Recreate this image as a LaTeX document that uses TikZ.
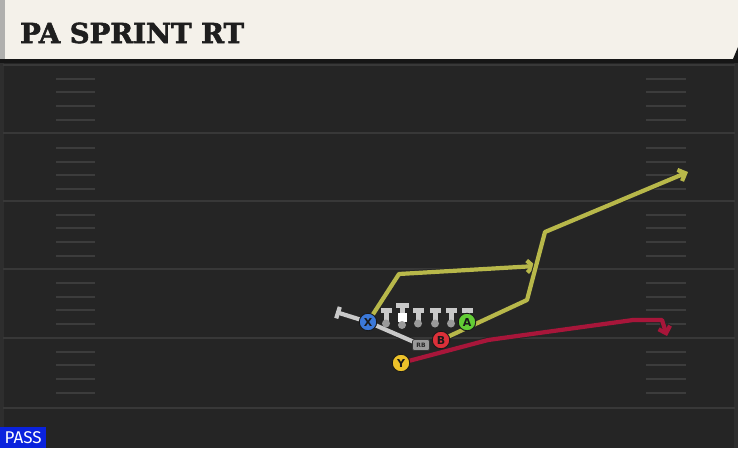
\documentclass[tikz,border=0pt]{standalone}
\usepackage{fontspec}
\usetikzlibrary{arrows.meta}
\newfontfamily\titlefont[BoldFeatures={FakeBold=2}]{DejaVu Serif}
\newfontfamily\lblfont{DejaVu Sans}
\newfontfamily\passfont{Fira Sans}
\definecolor{hdr}{HTML}{F4F1EA}
\definecolor{hdrstrip}{HTML}{B0B0AE}
\definecolor{fieldc}{HTML}{252525}
\definecolor{bandc}{HTML}{161616}
\definecolor{yardc}{HTML}{383838}
\definecolor{hashc}{HTML}{3C3C3C}
\definecolor{edgec}{HTML}{2E2E2E}
\definecolor{routey}{HTML}{B8B84A}
\definecolor{router}{HTML}{A8163A}
\definecolor{pblue}{HTML}{3B78D8}
\definecolor{pgreen}{HTML}{62CC35}
\definecolor{pred}{HTML}{DB3039}
\definecolor{pyellow}{HTML}{EDC22A}
\definecolor{lgray}{HTML}{C9C9C9}
\definecolor{mgray}{HTML}{9A9A9A}
\definecolor{passblue}{HTML}{0A22DD}
\definecolor{titlec}{HTML}{1E1E1E}
\pgfdeclarelayer{bg}
\pgfdeclarelayer{rt}
\pgfsetlayers{bg,rt,main}
\tikzset{
  player/.style={circle, draw=black!90, line width=0.9pt, minimum size=17.5pt, inner sep=0pt,
    font=\lblfont\bfseries\fontsize{11}{11}\selectfont, text=black!90},
  rbbox/.style={rectangle, rounded corners=2pt, draw=black!80, line width=0.7pt, fill=mgray,
    minimum width=17pt, minimum height=11pt, inner sep=0pt,
    font=\lblfont\bfseries\fontsize{6}{6}\selectfont, text=black!85},
  routeyel/.style={draw=routey, line width=4.2pt, line join=round,
    preaction={draw=black!85, line width=6.2pt}},
  routered/.style={draw=router, line width=4.2pt, line join=round,
    preaction={draw=black!85, line width=6.2pt}},
  blockline/.style={draw=lgray, line width=4.2pt,
    preaction={draw=black!85, line width=6.2pt}},
  yardline/.style={draw=yardc, line width=2pt},
  hashmark/.style={draw=hashc, line width=2pt}
}
\begin{document}
\begin{tikzpicture}[x=1pt,y=-1pt]
\useasboundingbox (0,0) rectangle (738,448);
\begin{pgfonlayer}{bg}
  % field
  \fill[fieldc] (0,59) rectangle (738,448);
  \fill[bandc] (0,59) rectangle (738,63);
  \fill[edgec] (0,63) rectangle (4,448);
  \fill[edgec] (734,63) rectangle (738,448);
  \foreach \yy in {65,133,201,269,338,408}
    \draw[yardline] (3,\yy) -- (735,\yy);
  \foreach \yy in {79,92,106,120,148,162,175,189,215,228,242,256,283,297,310,324,352,365,379,393}{
    \draw[hashmark] (56,\yy) -- (95,\yy);
    \draw[hashmark] (646,\yy) -- (686,\yy);
  }
  % header
  \fill[hdr] (0,0) rectangle (738,59);
  \fill[hdrstrip] (0,0) rectangle (5,59);
  \fill[bandc] (733,59) -- (738,47) -- (738,59) -- cycle;
\end{pgfonlayer}

\node[anchor=west, inner sep=0pt, text=titlec, font=\titlefont\bfseries\fontsize{27.5}{27.5}\selectfont]
  (title) at (20,33) {PA SPRINT RT};

\node[fill=passblue, anchor=south west, minimum width=46pt, minimum height=21pt, inner sep=0pt,
  text=white, font=\passfont\fontsize{17}{17}\selectfont] (pass) at (0,448) {PASS};

% offensive line
\foreach \xx in {386,418,435,451,467}{
  \fill[lgray] (\xx-5.5,307.5) rectangle (\xx+5.5,312.5);
  \fill[lgray] (\xx-2.5,310) rectangle (\xx+2.5,321);
  \fill[mgray] (\xx,323.5) circle (4pt);
}
\fill[lgray] (395.5,302.5) rectangle (408.5,307.5);
\fill[lgray] (399.5,305) rectangle (404.5,313);
\fill[white] (397.5,312.5) rectangle (406.5,322);
\fill[mgray] (402,325) circle (4pt);

% players
\node[player, fill=pblue] (X) at (368,322) {X};
\node[player, fill=pgreen] (A) at (467,322) {A};
\node[player, fill=pred] (B) at (441,340) {B};
\node[player, fill=pyellow] (Y) at (401,363) {Y};
\node[rbbox] (RB) at (421,345) {RB};

% route coordinates
\coordinate (x1) at (399,274);
\coordinate (x2) at (536,266);
\coordinate (b1) at (527,300);
\coordinate (b2) at (545,232);
\coordinate (b3) at (688,172);
\coordinate (y1) at (488,340);
\coordinate (y2) at (633,320);
\coordinate (y3) at (662,320);
\coordinate (y4) at (667,336);
\coordinate (blk) at (336,312);

\begin{pgfonlayer}{rt}
  \draw[blockline, -{Bar[width=12pt]}] (X.center) -- (blk);
  \draw[blockline] (X.center) -- (RB.center);
  \draw[routeyel, -{Straight Barb[length=6pt,width=12pt]}] (X.center) -- (x1) -- (x2);
  \draw[routeyel, -{Straight Barb[length=6pt,width=12pt]}] (B.center) -- (b1) -- (b2) -- (b3);
  \draw[routered, -{Straight Barb[length=6pt,width=12pt]}] (Y.center) -- (y1) -- (y2) -- (y3) -- (y4);
\end{pgfonlayer}
\end{tikzpicture}
\end{document}
